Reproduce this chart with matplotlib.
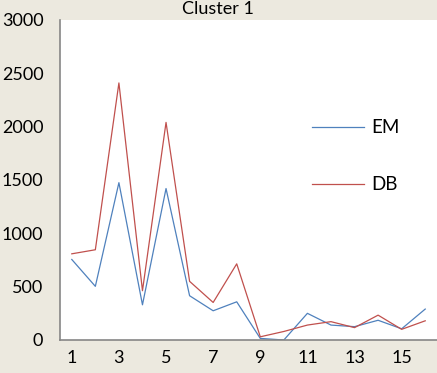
import matplotlib.pyplot as plt

x = list(range(1, 17))
em = [755, 503, 1475, 330, 1420, 415, 274, 358, 15, 0, 250, 140, 125, 185, 105, 290]
db = [808, 846, 2410, 462, 2040, 550, 352, 714, 30, 80, 140, 172, 116, 233, 100, 180]
xticks = [1, 3, 5, 7, 9, 11, 13, 15]
yticks = [0, 500, 1000, 1500, 2000, 2500, 3000]

bg = '#ECE9DF'
plt.rcParams['font.family'] = ['Lato', 'DejaVu Sans']

fig = plt.figure(figsize=(4.37, 3.73), dpi=100, facecolor=bg)
ax = fig.add_axes([60/437, 33/373, 377/437, 320/373])
ax.set_facecolor('white')

ax.plot(x, em, color='#4F81BD', lw=0.9, label='EM')
ax.plot(x, db, color='#C0504D', lw=0.9, label='DB')

ax.set_xlim(0.5, 16.5)
ax.set_ylim(0, 3000)
ax.set_xticks(xticks)
ax.set_yticks(yticks)
ax.tick_params(length=0, labelsize=13, colors='black')
ax.tick_params(axis='y', pad=12)
ax.tick_params(axis='x', pad=7)
for s in ['top', 'right']:
    ax.spines[s].set_visible(False)
for s in ['left', 'bottom']:
    ax.spines[s].set_color('#868686')
    ax.spines[s].set_linewidth(1.2)

fig.text(218/437, 1 - 9/373, 'Cluster 1', ha='center', va='center', fontsize=13)

ax.legend(loc='upper left', bbox_to_anchor=(0.623, 0.742), frameon=False,
          fontsize=13.5, handlelength=2.8, labelspacing=2.13, handletextpad=0.4)

fig.savefig('out.png', dpi=100, facecolor=bg)
